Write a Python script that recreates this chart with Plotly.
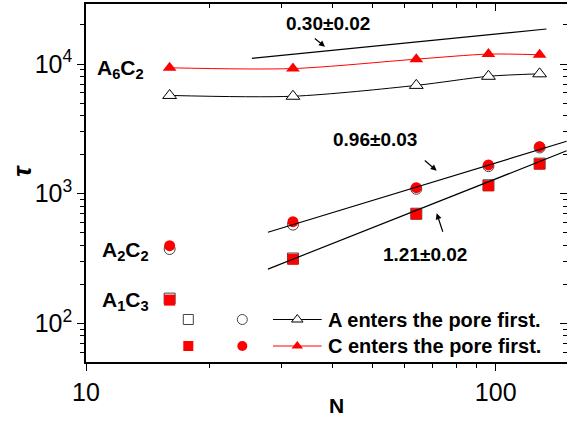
import plotly.graph_objects as go
import math

# ---------------- data ----------------
N = [16, 32, 64, 96, 128]
tau_A6C2_A = [5720, 5640, 6840, 8040, 8400]      # open triangles, A enters first
tau_A6C2_C = [9350, 9220, 10900, 11920, 11780]   # red triangles, C enters first

N_circ = [16, 32, 64, 96, 128]
tau_A2C2_A = [374, 577, 1090, 1630, 2270]        # open circles
tau_A2C2_C = [397, 608, 1111, 1664, 2302]        # red circles

N_sq = [16, 32, 64, 96, 128]
tau_A1C3_A = [155, 316, 700, 1160, 1705]         # open squares
tau_A1C3_C = [151, 312, 697, 1152, 1693]         # red squares

fit096_N = [27.8, 149]
fit096_tau = [504, 2535]
fit121_N = [27.8, 149]
fit121_tau = [262, 2140]
ref030_N = [25.4, 133]
ref030_tau = [11070, 18620]

x_ticks = [10, 100]
x_ticktext = ["10", "100"]
y_ticks = [1e2, 1e3, 1e4]
y_ticktext = ["10<sup>2</sup>", "10<sup>3</sup>", "10<sup>4</sup>"]
x_minor = [20, 30, 40, 50, 60, 70, 80, 90]
y_minor = [60, 70, 80, 90] + [k * 100 for k in range(2, 10)] + [k * 1000 for k in range(2, 10)] + [20000]

legend_rows = ["A enters the pore first.", "C enters the pore first."]

# ---------------- layout geometry (pixels) ----------------
W, H = 567, 424
L, R, T, B = 86, 0, 4, 62
XR = [1, 1 + (W - L - R) / 409.7]
YR = [1.7015, 4.4628]

FONT = "Liberation Sans, Arial, sans-serif"
RED = "#FF0000"


def px2paper(px, py):
    return (px - L) / (W - L - R), (H - B - py) / (H - B - T)


fig = go.Figure()

# A6C2
fig.add_trace(go.Scatter(x=N, y=tau_A6C2_A, mode="lines+markers",
                         line=dict(color="black", width=1, shape="spline", smoothing=0.8),
                         marker=dict(symbol="triangle-up", size=12, color="white",
                                     line=dict(color="black", width=1))))
fig.add_trace(go.Scatter(x=N, y=tau_A6C2_C, mode="lines+markers",
                         line=dict(color=RED, width=1, shape="spline", smoothing=0.8),
                         marker=dict(symbol="triangle-up", size=12, color=RED,
                                     line=dict(color=RED, width=0))))
# A1C3 squares
fig.add_trace(go.Scatter(x=N_sq, y=tau_A1C3_A, mode="markers",
                         marker=dict(symbol="square", size=11, color="white",
                                     line=dict(color="#444", width=1))))
fig.add_trace(go.Scatter(x=N_sq, y=tau_A1C3_C, mode="markers",
                         marker=dict(symbol="square", size=11, color=RED,
                                     line=dict(width=0))))
# A2C2 circles
fig.add_trace(go.Scatter(x=N_circ, y=tau_A2C2_A, mode="markers",
                         marker=dict(symbol="circle", size=11, color="white",
                                     line=dict(color="#444", width=1))))
fig.add_trace(go.Scatter(x=N_circ, y=tau_A2C2_C, mode="markers",
                         marker=dict(symbol="circle", size=11, color=RED,
                                     line=dict(width=0))))
# fit / guide lines
for xs, ys in [(fit096_N, fit096_tau), (fit121_N, fit121_tau), (ref030_N, ref030_tau)]:
    fig.add_trace(go.Scatter(x=xs, y=ys, mode="lines", line=dict(color="black", width=1.2)))

# mirror axes trace (empty)
fig.add_trace(go.Scatter(x=[], y=[], xaxis="x2", yaxis="y2", mode="markers"))

# ---------------- custom legend in pixel coordinates ----------------
row_y = [319.5, 346]
sq_x, ci_x = 188.3, 242.3
ln_x0, ln_x1, tri_x = 273, 321.7, 297.3
styles = [("white", "black", "#444"), (RED, RED, RED)]
for ry, (fill, lc, edge) in zip(row_y, styles):
    fig.add_trace(go.Scatter(x=[ln_x0, ln_x1], y=[ry, ry], xaxis="x3", yaxis="y3", mode="lines",
                             line=dict(color=lc, width=1)))
    fig.add_trace(go.Scatter(x=[tri_x], y=[ry], xaxis="x3", yaxis="y3", mode="markers",
                             marker=dict(symbol="triangle-up", size=10, color=fill,
                                         line=dict(color=lc, width=1 if fill == "white" else 0))))
    fig.add_trace(go.Scatter(x=[sq_x, ci_x], y=[ry, ry], xaxis="x3", yaxis="y3", mode="markers",
                             marker=dict(symbol=["square", "circle"], size=10, color=fill,
                                         line=dict(color=edge, width=1 if fill == "white" else 0))))

ann = []


def add_text(px, py, text, size, xanchor="center", textangle=0):
    xp, yp = px2paper(px, py)
    ann.append(dict(x=xp, y=yp, xref="paper", yref="paper", text=text, showarrow=False,
                    xanchor=xanchor, yanchor="middle", textangle=textangle,
                    font=dict(family=FONT, size=size, color="black")))


for ry, txt in zip(row_y, legend_rows):
    add_text(326, ry, "<b>" + txt + "</b>", 20, "left")

# species labels
for x0, y0, t in [(95, 69, "A<sub>6</sub>C<sub>2</sub>"),
                  (100, 251, "A<sub>2</sub>C<sub>2</sub>"),
                  (100, 301, "A<sub>1</sub>C<sub>3</sub>")]:
    add_text(x0, y0, "<b>" + t + "</b>", 21, "left")

# exponent labels
for x0, y0, t in [(327.5, 23.5, "0.30±0.02"), (374.5, 139.7, "0.96±0.03"), (425, 254.7, "1.21±0.02")]:
    add_text(x0, y0, "<b>" + t + "</b>", 19, "center")

# arrows (head, tail)
for hx, hy, tx, ty in [(325, 46.7, 313.3, 37.3), (436.7, 170.7, 423.3, 159.3), (436.7, 213.3, 443.3, 233.3)]:
    ann.append(dict(x=hx, y=hy, xref="x3", yref="y3", ax=tx, ay=ty, axref="x3", ayref="y3",
                    text="", showarrow=True, arrowhead=2, arrowsize=1, arrowwidth=1.2,
                    arrowcolor="black"))

# axis titles
add_text(336, 405, "<b>N</b>", 21)
add_text(22, 171, "<b><i>τ</i></b>", 26, "center", -90)

axis_common = dict(showgrid=False, zeroline=False, linecolor="black", linewidth=1.5,
                   tickcolor="black", tickwidth=1.2, ticklen=7)

fig.update_layout(
    width=W, height=H, margin=dict(l=L, r=R, t=T, b=B, pad=0),
    paper_bgcolor="white", plot_bgcolor="white", showlegend=False,
    font=dict(family=FONT, color="black"),
    xaxis=dict(type="log", range=XR, ticks="outside", showline=True,
               tickvals=x_ticks, ticktext=x_ticktext, tickfont=dict(size=25),
               minor=dict(tickvals=x_minor, ticks="outside", ticklen=4, tickcolor="black", tickwidth=1.2),
               **axis_common),
    yaxis=dict(type="log", range=YR, ticks="outside", showline=True,
               tickvals=y_ticks, ticktext=y_ticktext, tickfont=dict(size=25),
               minor=dict(tickvals=y_minor, ticks="outside", ticklen=4, tickcolor="black", tickwidth=1.2),
               **axis_common),
    xaxis2=dict(type="log", range=XR, overlaying="x", side="top", anchor="y2", ticks="inside",
                showline=True, showticklabels=False, tickvals=x_ticks,
                minor=dict(tickvals=x_minor, ticks="inside", ticklen=4, tickcolor="black", tickwidth=1.2),
                **axis_common),
    yaxis2=dict(type="log", range=YR, overlaying="y", side="right", anchor="x2", ticks="inside",
                showline=True, showticklabels=False, tickvals=y_ticks,
                minor=dict(tickvals=y_minor, ticks="inside", ticklen=4, tickcolor="black", tickwidth=1.2),
                **axis_common),
    xaxis3=dict(range=[L, W - R], overlaying="x", visible=False, anchor="y3"),
    yaxis3=dict(range=[H - B, T], overlaying="y", visible=False, anchor="x3"),
    annotations=ann,
)

fig.write_html("out.html")
